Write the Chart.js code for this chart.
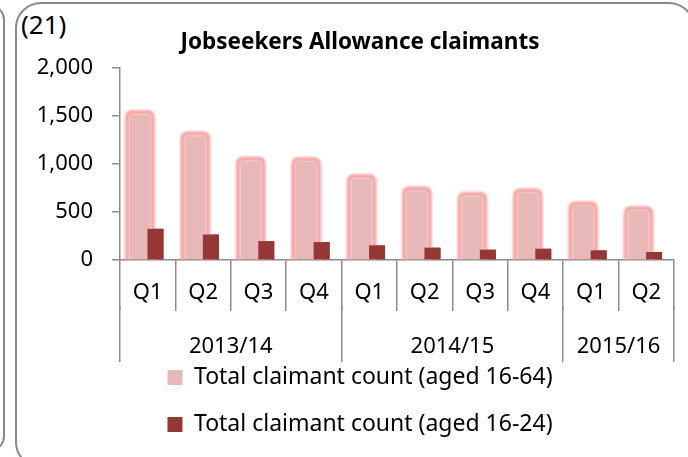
<!DOCTYPE html>
<html>
<head>
<meta charset="utf-8">
<script src="https://cdn.jsdelivr.net/npm/chart.js@4.4.1/dist/chart.umd.min.js"></script>
<style>
  html, body { margin: 0; padding: 0; background: #fff; overflow: hidden; }
  #wrap { position: relative; width: 688px; height: 457px; overflow: hidden; }
  .box { position: absolute; border: 2px solid #8a8a8a; box-sizing: border-box; }
  #mainBox { left: 15px; top: 2px; width: 680px; height: 466px; border-radius: 26px; }
  #sideBox { left: -300px; top: 4px; width: 305px; height: 448px; border-radius: 16px; }
  #num { position: absolute; left: 21px; top: 11px; font: 26px "Noto Sans", sans-serif; color: #000; line-height: 26px; }
  canvas { position: absolute; left: 0; top: 0; }
</style>
</head>
<body>
<div id="wrap">
  <div class="box" id="sideBox"></div>
  <div class="box" id="mainBox"></div>
  <div id="num">(21)</div>
  <canvas id="c" width="688" height="457"></canvas>
</div>
<script>
// ---- data ----
const categories = ['Q1','Q2','Q3','Q4','Q1','Q2','Q3','Q4','Q1','Q2'];
const years = ['2013/14','2014/15','2015/16'];
const quartersPerYear = [4, 4, 2];
const totalClaimants = [1510, 1290, 1025, 1020, 845, 715, 660, 695, 560, 510];
const youngClaimants = [325, 265, 197, 186, 152, 128, 107, 117, 100, 83];
const yTicks = [0, 500, 1000, 1500, 2000];
const seriesNames = ['Total claimant count (aged 16-64)', 'Total claimant count (aged 16-24)'];

// year group boundaries / centres (in category index units)
const boundaries = [-0.5];
const centers = [];
let acc = 0;
quartersPerYear.forEach(n => { centers.push(acc + (n - 1) / 2); acc += n; boundaries.push(acc - 0.5); });

const AXIS = '#8c8c8c';
Chart.defaults.font.family = '"Noto Sans", sans-serif';
Chart.defaults.color = '#000';

const glowPlugin = {
  id: 'glow',
  afterLayout(chart) {
    // let tick labels extend outside their scale boxes without clipping
    chart.scales.y.left = 0;
    chart.scales.x2.bottom = chart.height;
  },
  beforeDatasetDraw(chart, args) {
    if (args.index !== 0) return;
    // soft pink glow around the total-claimant bars, from the bar elements' own geometry
    const ctx = chart.ctx;
    const meta = chart.getDatasetMeta(0);
    ctx.save();
    ctx.filter = 'blur(1.2px)';
    ctx.strokeStyle = 'rgba(244,160,160,0.9)';
    ctx.lineWidth = 5;
    ctx.lineJoin = 'round';
    meta.data.forEach(bar => {
      const { x, y, base, width } = bar.getProps(['x', 'y', 'base', 'width'], true);
      const l = x - width / 2 - 2.5, r = x + width / 2 + 2.5, t = y - 2.5, b = base + 1;
      const rad = 5;
      ctx.beginPath();
      ctx.moveTo(l, b);
      ctx.lineTo(l, t + rad);
      ctx.quadraticCurveTo(l, t, l + rad, t);
      ctx.lineTo(r - rad, t);
      ctx.quadraticCurveTo(r, t, r, t + rad);
      ctx.lineTo(r, b);
      ctx.stroke();
    });
    ctx.restore();
  },
  afterDatasetsDraw(chart) {
    const meta = chart.getDatasetMeta(1);
    chart.ctx.save();
    meta.controller.draw();
    chart.ctx.restore();
  }
};

new Chart(document.getElementById('c'), {
  type: 'bar',
  data: {
    labels: categories,
    datasets: [
      {
        label: seriesNames[0],
        data: totalClaimants,
        backgroundColor: '#E6B8B7',
        borderWidth: 0,
        categoryPercentage: 0.56,
        barPercentage: 1.29
      },
      {
        label: seriesNames[1],
        data: youngClaimants,
        backgroundColor: '#953735',
        borderWidth: 0,
        categoryPercentage: 0.56,
        barPercentage: 1.03
      }
    ]
  },
  options: {
    responsive: false,
    animation: false,
    devicePixelRatio: 1,
    layout: { padding: { left: 46, right: 14, top: 20, bottom: 11 } },
    scales: {
      y: {
        min: 0, max: 2000,
        afterBuildTicks: s => { s.ticks = yTicks.map(v => ({ value: v })); },
        afterFit: s => { s.width = 74; },
        border: { color: AXIS, width: 1.5 },
        grid: { drawOnChartArea: false, drawTicks: true, tickLength: 8, color: AXIS, lineWidth: 1.5 },
        ticks: { padding: 19, font: { size: 22 }, callback: v => v.toLocaleString('en-US') }
      },
      x: {
        type: 'category',
        weight: 0,
        border: { color: AXIS, width: 1.5 },
        grid: { offset: true, drawOnChartArea: false, tickLength: 51, color: AXIS, lineWidth: 1.5 },
        ticks: { padding: -31, maxRotation: 0, autoSkip: false, font: { size: 22 } },
        afterFit: s => { s.height = 46; }
      },
      x2: {
        type: 'linear',
        position: 'bottom',
        weight: 1,
        min: -0.5,
        max: categories.length - 0.5,
        offset: false,
        border: { display: false },
        afterBuildTicks: s => {
          s.ticks = [...boundaries, ...centers].sort((a, b) => a - b).map(v => ({ value: v }));
        },
        grid: {
          offset: false,
          drawOnChartArea: false,
          tickLength: 56,
          lineWidth: 1.5,
          color: c => (c.tick && boundaries.includes(c.tick.value)) ? AXIS : 'rgba(0,0,0,0)'
        },
        ticks: {
          padding: -28, maxRotation: 0, autoSkip: false, font: { size: 22 },
          callback: v => { const i = centers.indexOf(v); return i >= 0 ? years[i] : ''; }
        },
        afterFit: s => { s.height = 36; }
      }
    },
    plugins: {
      title: {
        display: true,
        text: 'Jobseekers Allowance claimants',
        font: { size: 22.5, weight: 'bold' },
        color: '#000',
        padding: { top: 9, bottom: 12 }
      },
      legend: {
        position: 'bottom',
        labels: {
          boxWidth: 15, boxHeight: 15, padding: 24, font: { size: 23 }, color: '#000',
          generateLabels: chart => Chart.defaults.plugins.legend.labels.generateLabels(chart)
            .map(l => Object.assign(l, { lineWidth: 0, strokeStyle: l.fillStyle }))
        }
      },
      tooltip: { enabled: false }
    }
  },
  plugins: [glowPlugin]
});
</script>
</body>
</html>
